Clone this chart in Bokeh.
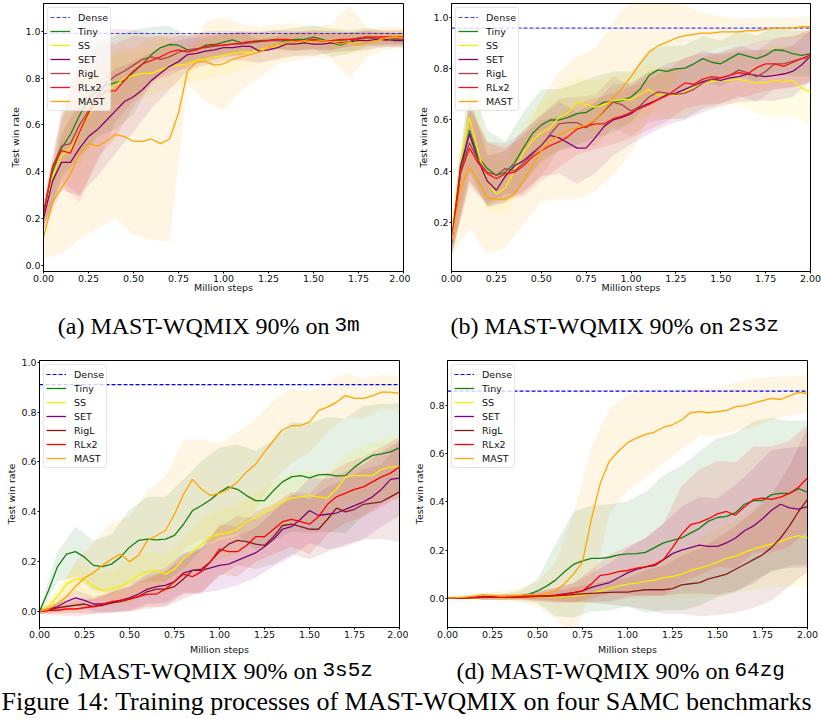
import numpy as np
from bokeh.plotting import figure
from bokeh.models import (Range1d, FixedTicker, NumeralTickFormatter, Label,
                          Legend, LegendItem)
from bokeh.layouts import column, row
from bokeh.embed import file_html
from bokeh.resources import INLINE

# ---------------- data ----------------
STEPS = np.linspace(0.0, 2.0, 41)          # million steps (sampling grid of curves)
BAND_STEPS = STEPS[::2]                   # grid of the std bands
SERIES = ["Tiny", "SS", "SET", "RigL", "RLx2", "MAST"]
X_TICKS = [0.0, 0.25, 0.5, 0.75, 1.0, 1.25, 1.5, 1.75, 2.0]
Y_TICKS = [0.0, 0.2, 0.4, 0.6, 0.8, 1.0]

DENSE_A, DENSE_B, DENSE_C, DENSE_D = 0.99, 0.96, 0.91, 0.86

# (a) 3m
TINY_A = [0.20, 0.40, 0.50, 0.56, 0.64, 0.71, 0.75, 0.77, 0.78, 0.79,
          0.825, 0.86, 0.90, 0.93, 0.943, 0.94, 0.92, 0.92, 0.94, 0.943,
          0.953, 0.963, 0.95, 0.955, 0.96, 0.962, 0.965, 0.96, 0.965, 0.965,
          0.975, 0.965, 0.95, 0.94, 0.955, 0.97, 0.975, 0.965, 0.97, 0.97,
          0.97]
SS_A = [0.20, 0.38, 0.47, 0.50, 0.57, 0.64, 0.70, 0.74, 0.77, 0.80,
        0.81, 0.82, 0.82, 0.835, 0.85, 0.855, 0.86, 0.875, 0.88, 0.89,
        0.895, 0.905, 0.91, 0.91, 0.92, 0.93, 0.935, 0.94, 0.945, 0.95,
        0.955, 0.955, 0.955, 0.955, 0.95, 0.955, 0.96, 0.965, 0.97, 0.975,
        0.975]
SET_A = [0.20, 0.36, 0.44, 0.44, 0.50, 0.55, 0.58, 0.62, 0.66, 0.70,
         0.72, 0.75, 0.79, 0.82, 0.85, 0.87, 0.90, 0.905, 0.915, 0.92,
         0.93, 0.93, 0.935, 0.935, 0.915, 0.92, 0.93, 0.945, 0.945, 0.95,
         0.945, 0.945, 0.95, 0.95, 0.955, 0.96, 0.96, 0.965, 0.965, 0.96,
         0.96]
RIGL_A = [0.22, 0.42, 0.51, 0.52, 0.60, 0.66, 0.72, 0.78, 0.81, 0.83,
          0.855, 0.88, 0.89, 0.88, 0.89, 0.91, 0.92, 0.925, 0.93, 0.935,
          0.94, 0.945, 0.945, 0.95, 0.955, 0.96, 0.96, 0.955, 0.955, 0.96,
          0.96, 0.955, 0.96, 0.96, 0.965, 0.965, 0.97, 0.97, 0.96, 0.965,
          0.965]
RLX2_A = [0.22, 0.42, 0.49, 0.48, 0.57, 0.65, 0.71, 0.745, 0.745, 0.79,
          0.83, 0.86, 0.875, 0.89, 0.91, 0.92, 0.91, 0.92, 0.935, 0.94,
          0.94, 0.945, 0.95, 0.955, 0.955, 0.96, 0.965, 0.965, 0.96, 0.96,
          0.965, 0.96, 0.96, 0.965, 0.965, 0.97, 0.975, 0.975, 0.975, 0.975,
          0.975]
MAST_A = [0.12, 0.27, 0.33, 0.39, 0.48, 0.52, 0.51, 0.53, 0.56, 0.55,
          0.53, 0.53, 0.54, 0.52, 0.54, 0.65, 0.83, 0.87, 0.87, 0.855,
          0.86, 0.88, 0.89, 0.90, 0.91, 0.93, 0.945, 0.955, 0.955, 0.96,
          0.955, 0.96, 0.955, 0.945, 0.955, 0.94, 0.95, 0.96, 0.97, 0.975,
          0.97]
STD_TINY_A = [0.05, 0.12, 0.18, 0.2, 0.2, 0.18, 0.12, 0.08, 0.06, 0.06,
              0.05, 0.05, 0.04, 0.04, 0.05, 0.05, 0.06, 0.05, 0.04, 0.03, 0.03]
STD_SS_A = [0.05, 0.1, 0.15, 0.15, 0.12, 0.1, 0.1, 0.09, 0.08, 0.08,
            0.08, 0.07, 0.06, 0.05, 0.05, 0.05, 0.05, 0.05, 0.04, 0.03, 0.03]
STD_SET_A = [0.05, 0.12, 0.2, 0.2, 0.18, 0.15, 0.12, 0.1, 0.07, 0.06,
             0.06, 0.06, 0.05, 0.05, 0.05, 0.05, 0.04, 0.04, 0.04, 0.03, 0.03]
STD_RIGL_A = [0.05, 0.15, 0.3, 0.28, 0.2, 0.15, 0.1, 0.08, 0.07, 0.06,
              0.05, 0.05, 0.04, 0.04, 0.04, 0.04, 0.04, 0.03, 0.03, 0.03, 0.03]
STD_RLX2_A = [0.05, 0.15, 0.3, 0.25, 0.2, 0.15, 0.1, 0.08, 0.07, 0.06,
              0.05, 0.05, 0.04, 0.04, 0.04, 0.04, 0.04, 0.03, 0.03, 0.03, 0.03]
STD_MAST_A = [0.09, 0.28, 0.37, 0.35, 0.36, 0.40, 0.43, 0.44, 0.06, 0.17,
              0.2, 0.14, 0.11, 0.085, 0.08, 0.065, 0.075, 0.155, 0.06, 0.05, 0.04]

# (b) 2s3z
TINY_B = [0.12, 0.39, 0.56, 0.455, 0.41, 0.383, 0.396, 0.43, 0.49, 0.546,
          0.58, 0.60, 0.60, 0.61, 0.625, 0.63, 0.65, 0.67, 0.67, 0.676,
          0.69, 0.72, 0.774, 0.796, 0.79, 0.80, 0.803, 0.82, 0.84, 0.826,
          0.82, 0.84, 0.86, 0.85, 0.84, 0.853, 0.875, 0.872, 0.86, 0.853,
          0.86]
SS_B = [0.13, 0.45, 0.61, 0.47, 0.36, 0.31, 0.335, 0.40, 0.47, 0.52,
        0.55, 0.57, 0.61, 0.63, 0.67, 0.66, 0.65, 0.66, 0.675, 0.68,
        0.68, 0.70, 0.72, 0.695, 0.70, 0.695, 0.71, 0.73, 0.745, 0.75,
        0.755, 0.755, 0.76, 0.75, 0.745, 0.745, 0.755, 0.75, 0.755, 0.725,
        0.71]
SET_B = [0.12, 0.42, 0.545, 0.44, 0.36, 0.325, 0.38, 0.42, 0.44, 0.47,
         0.50, 0.54, 0.53, 0.51, 0.49, 0.49, 0.53, 0.575, 0.60, 0.61,
         0.625, 0.65, 0.665, 0.68, 0.70, 0.705, 0.72, 0.735, 0.75, 0.76,
         0.755, 0.765, 0.77, 0.78, 0.775, 0.77, 0.775, 0.78, 0.79, 0.815,
         0.85]
RIGL_B = [0.12, 0.40, 0.51, 0.44, 0.395, 0.385, 0.41, 0.40, 0.43, 0.465,
          0.50, 0.545, 0.585, 0.59, 0.59, 0.57, 0.60, 0.635, 0.67, 0.66,
          0.635, 0.655, 0.69, 0.71, 0.705, 0.70, 0.705, 0.72, 0.745, 0.76,
          0.765, 0.775, 0.795, 0.785, 0.77, 0.79, 0.82, 0.82, 0.83, 0.84,
          0.845]
RLX2_B = [0.12, 0.39, 0.49, 0.43, 0.39, 0.37, 0.39, 0.395, 0.42, 0.455,
          0.48, 0.50, 0.515, 0.535, 0.565, 0.575, 0.585, 0.585, 0.605, 0.615,
          0.63, 0.645, 0.66, 0.68, 0.695, 0.72, 0.745, 0.74, 0.76, 0.77,
          0.765, 0.775, 0.785, 0.78, 0.805, 0.82, 0.82, 0.81, 0.825, 0.84,
          0.855]
MAST_B = [0.12, 0.33, 0.415, 0.36, 0.295, 0.29, 0.29, 0.31, 0.36, 0.42,
          0.48, 0.52, 0.54, 0.56, 0.57, 0.58, 0.60, 0.64, 0.685, 0.725,
          0.77, 0.82, 0.865, 0.89, 0.905, 0.92, 0.93, 0.935, 0.94, 0.94,
          0.945, 0.945, 0.945, 0.95, 0.95, 0.955, 0.96, 0.96, 0.96, 0.965,
          0.965]
STD_TINY_B = [0.05, 0.2, 0.15, 0.12, 0.14, 0.14, 0.12, 0.12, 0.12, 0.12,
              0.1, 0.1, 0.1, 0.09, 0.09, 0.09, 0.09, 0.09, 0.09, 0.09, 0.09]
STD_SS_B = [0.05, 0.18, 0.12, 0.1, 0.12, 0.12, 0.12, 0.1, 0.1, 0.1,
            0.1, 0.1, 0.1, 0.1, 0.1, 0.1, 0.1, 0.12, 0.14, 0.14, 0.13]
STD_SET_B = [0.05, 0.15, 0.1, 0.1, 0.12, 0.12, 0.14, 0.14, 0.14, 0.14,
             0.12, 0.12, 0.12, 0.12, 0.12, 0.1, 0.1, 0.1, 0.1, 0.1, 0.1]
STD_RIGL_B = [0.05, 0.15, 0.12, 0.1, 0.12, 0.12, 0.1, 0.1, 0.1, 0.1,
              0.1, 0.1, 0.1, 0.1, 0.1, 0.1, 0.1, 0.1, 0.1, 0.1, 0.1]
STD_RLX2_B = [0.05, 0.15, 0.12, 0.1, 0.12, 0.12, 0.1, 0.1, 0.1, 0.1,
              0.1, 0.1, 0.1, 0.1, 0.1, 0.1, 0.1, 0.1, 0.1, 0.1, 0.1]
STD_MAST_B = [0.05, 0.24, 0.22, 0.19, 0.17, 0.2, 0.25, 0.28, 0.28, 0.3,
              0.3, 0.25, 0.2, 0.12, 0.08, 0.06, 0.05, 0.05, 0.04, 0.04, 0.04]

# (c) 3s5z
TINY_C = [0.0, 0.084, 0.18, 0.23, 0.24, 0.218, 0.185, 0.18, 0.19, 0.218,
          0.258, 0.285, 0.29, 0.287, 0.29, 0.305, 0.35, 0.405, 0.425, 0.448,
          0.478, 0.50, 0.49, 0.465, 0.445, 0.445, 0.485, 0.52, 0.54, 0.545,
          0.536, 0.548, 0.55, 0.544, 0.545, 0.579, 0.605, 0.626, 0.632, 0.64,
          0.656]
SS_C = [0.0, 0.02, 0.06, 0.11, 0.13, 0.13, 0.10, 0.085, 0.09, 0.10,
        0.12, 0.145, 0.16, 0.165, 0.15, 0.17, 0.21, 0.24, 0.27, 0.30,
        0.31, 0.315, 0.33, 0.36, 0.375, 0.40, 0.42, 0.44, 0.455, 0.46,
        0.465, 0.46, 0.455, 0.49, 0.54, 0.545, 0.545, 0.545, 0.57, 0.58,
        0.58]
SET_C = [0.0, 0.01, 0.02, 0.04, 0.055, 0.045, 0.03, 0.03, 0.035, 0.045,
         0.055, 0.07, 0.09, 0.10, 0.105, 0.12, 0.155, 0.165, 0.165, 0.175,
         0.185, 0.19, 0.205, 0.22, 0.235, 0.26, 0.29, 0.33, 0.34, 0.37,
         0.405, 0.385, 0.39, 0.395, 0.41, 0.425, 0.44, 0.46, 0.49, 0.53,
         0.535]
RIGL_C = [0.0, 0.005, 0.015, 0.02, 0.025, 0.03, 0.02, 0.025, 0.035, 0.04,
          0.05, 0.06, 0.08, 0.09, 0.09, 0.10, 0.13, 0.165, 0.17, 0.20,
          0.24, 0.27, 0.285, 0.28, 0.27, 0.265, 0.30, 0.345, 0.35, 0.34,
          0.33, 0.33, 0.37, 0.415, 0.40, 0.41, 0.43, 0.435, 0.44, 0.46,
          0.48]
RLX2_C = [0.0, 0.005, 0.005, 0.01, 0.01, 0.015, 0.02, 0.03, 0.04, 0.045,
          0.05, 0.06, 0.07, 0.07, 0.09, 0.12, 0.15, 0.14, 0.16, 0.20,
          0.25, 0.24, 0.24, 0.265, 0.30, 0.30, 0.33, 0.36, 0.37, 0.36,
          0.35, 0.38, 0.43, 0.46, 0.475, 0.49, 0.50, 0.52, 0.54, 0.555,
          0.58]
MAST_C = [0.0, 0.01, 0.03, 0.06, 0.10, 0.135, 0.155, 0.185, 0.21, 0.23,
          0.20, 0.225, 0.285, 0.305, 0.325, 0.39, 0.47, 0.53, 0.49, 0.465,
          0.475, 0.49, 0.52, 0.56, 0.59, 0.64, 0.686, 0.73, 0.745, 0.746,
          0.76, 0.806, 0.82, 0.84, 0.866, 0.855, 0.855, 0.865, 0.88, 0.88,
          0.875]
STD_TINY_C = [0.01, 0.06, 0.1, 0.1, 0.12, 0.15, 0.17, 0.17, 0.18, 0.18,
              0.18, 0.18, 0.2, 0.2, 0.22, 0.22, 0.23, 0.23, 0.22, 0.2, 0.18]
STD_SS_C = [0.01, 0.04, 0.06, 0.06, 0.07, 0.08, 0.08, 0.08, 0.08, 0.1,
            0.1, 0.1, 0.1, 0.1, 0.1, 0.1, 0.1, 0.1, 0.12, 0.12, 0.13]
STD_SET_C = [0.01, 0.02, 0.03, 0.03, 0.04, 0.05, 0.06, 0.07, 0.08, 0.09,
             0.1, 0.1, 0.1, 0.11, 0.12, 0.13, 0.14, 0.15, 0.15, 0.15, 0.15]
STD_RIGL_C = [0.01, 0.02, 0.03, 0.03, 0.04, 0.05, 0.06, 0.07, 0.08, 0.09,
              0.1, 0.1, 0.1, 0.11, 0.12, 0.12, 0.13, 0.13, 0.14, 0.15, 0.2]
STD_RLX2_C = [0.01, 0.02, 0.03, 0.03, 0.04, 0.05, 0.06, 0.07, 0.08, 0.09,
              0.1, 0.1, 0.1, 0.1, 0.11, 0.12, 0.12, 0.12, 0.12, 0.12, 0.12]
STD_MAST_C = [0.01, 0.04, 0.1, 0.12, 0.15, 0.18, 0.2, 0.22, 0.22, 0.2,
              0.2, 0.2, 0.18, 0.16, 0.15, 0.12, 0.1, 0.09, 0.08, 0.07, 0.07]

# (d) 64zg
TINY_D = [0.0, 0.0, 0.0, 0.002, 0.005, 0.005, 0.006, 0.007, 0.01, 0.015,
          0.03, 0.05, 0.075, 0.11, 0.14, 0.155, 0.165, 0.165, 0.17, 0.18,
          0.184, 0.185, 0.19, 0.21, 0.23, 0.24, 0.25, 0.27, 0.29, 0.32,
          0.335, 0.34, 0.355, 0.39, 0.405, 0.405, 0.43, 0.435, 0.435, 0.455,
          0.44]
SS_D = [0.0, 0.0, 0.0, 0.0, 0.002, 0.002, 0.002, 0.003, 0.003, 0.004,
        0.004, 0.005, 0.006, 0.008, 0.01, 0.013, 0.02, 0.03, 0.04, 0.05,
        0.058, 0.063, 0.07, 0.075, 0.085, 0.09, 0.10, 0.115, 0.125, 0.135,
        0.15, 0.165, 0.175, 0.19, 0.205, 0.215, 0.225, 0.235, 0.25, 0.26,
        0.25]
SET_D = [0.0, 0.0, 0.001, 0.003, 0.005, 0.005, 0.005, 0.006, 0.007, 0.008,
         0.009, 0.01, 0.013, 0.018, 0.023, 0.03, 0.045, 0.055, 0.065, 0.085,
         0.105, 0.12, 0.13, 0.135, 0.16, 0.185, 0.2, 0.21, 0.22, 0.215,
         0.215, 0.23, 0.25, 0.28, 0.30, 0.33, 0.365, 0.39, 0.375, 0.37,
         0.38]
RIGL_D = [0.0, 0.0, 0.001, 0.002, 0.003, 0.003, 0.003, 0.004, 0.005, 0.006,
          0.007, 0.008, 0.01, 0.012, 0.015, 0.018, 0.02, 0.022, 0.024, 0.025,
          0.025, 0.03, 0.035, 0.035, 0.035, 0.04, 0.055, 0.06, 0.065, 0.08,
          0.09, 0.10, 0.12, 0.14, 0.16, 0.18, 0.21, 0.25, 0.30, 0.36,
          0.41]
RLX2_D = [0.0, 0.0, 0.001, 0.002, 0.003, 0.003, 0.004, 0.005, 0.006, 0.007,
          0.008, 0.01, 0.012, 0.016, 0.022, 0.03, 0.06, 0.095, 0.10, 0.11,
          0.115, 0.125, 0.13, 0.14, 0.16, 0.21, 0.265, 0.305, 0.315, 0.33,
          0.35, 0.36, 0.345, 0.38, 0.41, 0.415, 0.41, 0.42, 0.435, 0.46,
          0.50]
MAST_D = [0.0, 0.002, 0.005, 0.01, 0.015, 0.012, 0.008, 0.01, 0.012, 0.015,
          0.015, 0.02, 0.03, 0.06, 0.10, 0.15, 0.33, 0.48, 0.57, 0.61,
          0.645, 0.665, 0.68, 0.69, 0.71, 0.72, 0.74, 0.77, 0.775, 0.77,
          0.775, 0.78, 0.795, 0.80, 0.81, 0.82, 0.83, 0.825, 0.84, 0.855,
          0.85]
STD_TINY_D = [0.0, 0.0, 0.01, 0.01, 0.02, 0.05, 0.15, 0.22, 0.22, 0.22,
              0.22, 0.25, 0.28, 0.3, 0.32, 0.33, 0.33, 0.33, 0.32, 0.3, 0.3]
STD_SS_D = [0.0, 0.0, 0.005, 0.01, 0.01, 0.01, 0.02, 0.03, 0.04, 0.05,
            0.06, 0.07, 0.08, 0.1, 0.12, 0.14, 0.15, 0.17, 0.18, 0.2, 0.2]
STD_SET_D = [0.0, 0.0, 0.01, 0.01, 0.01, 0.02, 0.03, 0.04, 0.06, 0.08,
             0.1, 0.12, 0.15, 0.18, 0.2, 0.2, 0.22, 0.24, 0.25, 0.25, 0.25]
STD_RIGL_D = [0.0, 0.0, 0.01, 0.01, 0.01, 0.01, 0.02, 0.03, 0.04, 0.05,
              0.06, 0.08, 0.1, 0.12, 0.14, 0.16, 0.18, 0.2, 0.22, 0.25, 0.3]
STD_RLX2_D = [0.0, 0.0, 0.01, 0.01, 0.01, 0.02, 0.03, 0.04, 0.06, 0.08,
              0.1, 0.12, 0.15, 0.2, 0.22, 0.22, 0.22, 0.22, 0.22, 0.22, 0.22]
STD_MAST_D = [0.0, 0.01, 0.01, 0.02, 0.03, 0.05, 0.12, 0.25, 0.3, 0.22,
              0.2, 0.18, 0.15, 0.12, 0.1, 0.1, 0.1, 0.1, 0.09, 0.08, 0.08]

X_LABEL = "Million steps"
Y_LABEL = "Test win rate"
CAPTION_PREFIX = ["(a) MAST-WQMIX 90% on", "(b) MAST-WQMIX 90% on",
                  "(c) MAST-WQMIX 90% on", "(d) MAST-WQMIX 90% on"]
CAPTION_ENV = ["3m", "2s3z", "3s5z", "64zg"]
FIG_CAPTION = "Figure 14: Training processes of MAST-WQMIX on four SAMC benchmarks"

# ---------------- style ----------------
COLORS_AB = {"Tiny": "#1a841a", "SS": "#f6ee00", "SET": "#800080",
             "RigL": "#a54646", "RLx2": "#ff1010", "MAST": "#ffa500"}
COLORS_CD = {"Tiny": "#128012", "SS": "#f6ee00", "SET": "#800080",
             "RigL": "#8b1a1a", "RLx2": "#ff0000", "MAST": "#ffa500"}
TICK_FONT = "DejaVu Sans"
FS = "9.5px"
SERIF = "Liberation Serif"
MONO = "Liberation Mono"
TXT = "#111111"


def make_panel(means, stds, dense, colors, dense_alpha, width, height, bl, br, bt, bb,
               yr, yticks, xlab_standoff):
    p = figure(width=width, height=height, x_range=Range1d(0, 2),
               y_range=Range1d(*yr), output_backend="svg", toolbar_location=None,
               min_border_left=bl, min_border_right=br, min_border_top=bt,
               min_border_bottom=bb)
    p.grid.visible = False
    p.background_fill_color = "white"
    p.border_fill_color = "white"
    p.outline_line_color = "black"
    p.outline_line_width = 1
    p.outline_line_alpha = 1

    # std bands
    for name in SERIES:
        m = np.asarray(means[name])[::2]
        s = np.asarray(stds[name])
        p.varea(x=BAND_STEPS, y1=m - s, y2=m + s, fill_color=colors[name],
                fill_alpha=0.11)
    # dense reference + mean curves
    rd = p.line(STEPS, np.full(len(STEPS), dense), line_color="blue",
                line_dash="4 2", line_width=1.2, line_alpha=dense_alpha)
    items = [LegendItem(label="Dense", renderers=[rd])]
    for name in SERIES:
        r = p.line(STEPS, means[name], line_color=colors[name], line_width=1.3)
        items.append(LegendItem(label=name, renderers=[r]))

    leg = Legend(items=items, location="top_left", margin=4, padding=2,
                 spacing=0, glyph_width=20, glyph_height=14, label_height=14,
                 label_standoff=8, label_text_font=TICK_FONT,
                 label_text_font_size=FS, label_text_color=TXT,
                 border_line_color="#cccccc", border_line_width=1,
                 background_fill_color="white", background_fill_alpha=0.8)
    try:
        leg.border_radius = 3
    except Exception:
        pass
    p.add_layout(leg)

    # axes
    p.xaxis.ticker = FixedTicker(ticks=X_TICKS)
    p.xaxis.formatter = NumeralTickFormatter(format="0.00")
    p.yaxis.ticker = FixedTicker(ticks=yticks)
    p.yaxis.formatter = NumeralTickFormatter(format="0.0")
    for ax in (p.xaxis[0], p.yaxis[0]):
        ax.major_tick_in = 0
        ax.major_tick_out = 2
        ax.minor_tick_line_color = None
        ax.axis_line_color = "black"
        ax.major_tick_line_color = "black"
        ax.major_label_text_font = TICK_FONT
        ax.major_label_text_font_size = FS
        ax.major_label_text_color = TXT
        ax.major_label_standoff = 1
        ax.axis_label_text_font = TICK_FONT
        ax.axis_label_text_font_size = FS
        ax.axis_label_text_font_style = "normal"
        ax.axis_label_text_color = TXT
    if xlab_standoff is not None:
        p.xaxis.axis_label = X_LABEL
        p.xaxis.axis_label_standoff = xlab_standoff
    p.yaxis.axis_label = Y_LABEL
    p.yaxis.axis_label_standoff = 1
    return p


def caption_strip(width, height, entries):
    s = figure(width=width, height=height, x_range=Range1d(0, 1), y_range=Range1d(0, 1),
               output_backend="svg", toolbar_location=None, min_border=0,
               x_axis_type=None, y_axis_type=None)
    s.outline_line_color = None
    s.grid.visible = False
    s.background_fill_color = "white"
    s.border_fill_color = "white"
    for (x, y, text, font, size, align, base, color) in entries:
        s.add_layout(Label(x=x, y=y, x_units="screen", y_units="screen", text=text,
                           text_font=font, text_font_size=size, text_color=color,
                           text_align=align, text_baseline=base))
    return s


def table(t, ss, se, rg, rl, ma):
    return dict(zip(SERIES, [t, ss, se, rg, rl, ma]))


pa = make_panel(table(TINY_A, SS_A, SET_A, RIGL_A, RLX2_A, MAST_A),
                table(STD_TINY_A, STD_SS_A, STD_SET_A, STD_RIGL_A, STD_RLX2_A, STD_MAST_A),
                DENSE_A, COLORS_AB, 0.75, 410, 296, 43, 7, 3, 25,
                (-0.0256, 1.118), Y_TICKS, -3)
pb = make_panel(table(TINY_B, SS_B, SET_B, RIGL_B, RLX2_B, MAST_B),
                table(STD_TINY_B, STD_SS_B, STD_SET_B, STD_RIGL_B, STD_RLX2_B, STD_MAST_B),
                DENSE_B, COLORS_AB, 0.75, 411, 296, 41, 11, 3, 25,
                (0.007, 1.056), Y_TICKS, -3)
pc = make_panel(table(TINY_C, SS_C, SET_C, RIGL_C, RLX2_C, MAST_C),
                table(STD_TINY_C, STD_SS_C, STD_SET_C, STD_RIGL_C, STD_RLX2_C, STD_MAST_C),
                DENSE_C, COLORS_CD, 1.0, 408, 297, 39, 9, 15, 15,
                (-0.0642, 1.0068), Y_TICKS, None)
pd_ = make_panel(table(TINY_D, SS_D, SET_D, RIGL_D, RLX2_D, MAST_D),
                 table(STD_TINY_D, STD_SS_D, STD_SET_D, STD_RIGL_D, STD_RLX2_D, STD_MAST_D),
                 DENSE_D, COLORS_CD, 1.0, 413, 297, 39, 14, 15, 15,
                 (-0.1217, 0.987), Y_TICKS, None)

strip1 = caption_strip(821, 49, [
    (329, 20, CAPTION_PREFIX[0], SERIF, "24px", "right", "alphabetic", "black"),
    (334, 20, CAPTION_ENV[0], MONO, "21px", "left", "alphabetic", "black"),
    (723, 20, CAPTION_PREFIX[1], SERIF, "24px", "right", "alphabetic", "black"),
    (728, 20, CAPTION_ENV[1], MONO, "21px", "left", "alphabetic", "black"),
])
strip2 = caption_strip(821, 77, [
    (219, 70, X_LABEL, TICK_FONT, FS, "center", "middle", TXT),
    (627, 70, X_LABEL, TICK_FONT, FS, "center", "middle", TXT),
    (317, 49, CAPTION_PREFIX[2], SERIF, "24px", "right", "alphabetic", "black"),
    (322, 49, CAPTION_ENV[2], MONO, "21px", "left", "alphabetic", "black"),
    (729, 49, CAPTION_PREFIX[3], SERIF, "24px", "right", "alphabetic", "black"),
    (734, 49, CAPTION_ENV[3], MONO, "21px", "left", "alphabetic", "black"),
    (1, 18, FIG_CAPTION, SERIF, "26px", "left", "alphabetic", "black"),
])

layout = column(row(pa, pb), strip1, row(pc, pd_), strip2)
open("out.html", "w").write(file_html(layout, INLINE))
